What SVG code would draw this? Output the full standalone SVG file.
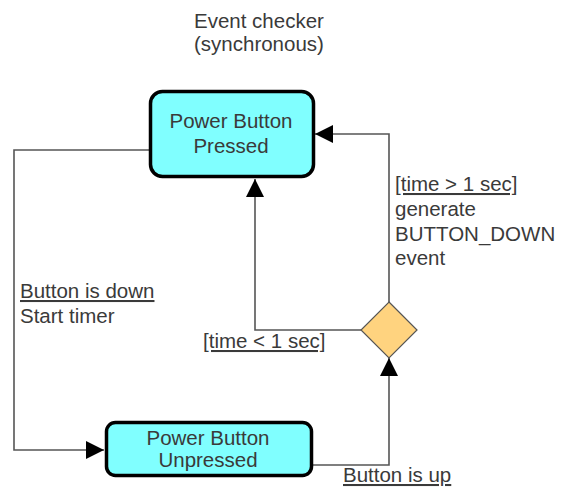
<svg xmlns="http://www.w3.org/2000/svg" width="561" height="487" viewBox="0 0 561 487">
  <style>
    .state { fill: #80FFFF; stroke: #000; stroke-width: 3.5; }
    .choice { fill: #FFD37F; stroke: #555; stroke-width: 1.2; }
    .wire { fill: none; stroke: #555; stroke-width: 1.6; }
    text { font-family: "Liberation Sans", Arial, sans-serif; font-size: 20.5px; fill: #3a3a3a; }
    .center { text-anchor: middle; }
    .guard { text-decoration: underline; }
  </style>
  <defs>
    <marker id="arrow" markerUnits="userSpaceOnUse" markerWidth="18" markerHeight="18" refX="18" refY="9" orient="auto">
      <path d="M0,0 L18,9 L0,18 Z" fill="#000"/>
    </marker>
  </defs>

  <rect width="561" height="487" fill="#fff"/>

  <!-- title -->
  <g id="title">
    <text x="194" y="28">Event checker</text>
    <text x="194" y="51">(synchronous)</text>
  </g>

  <!-- transitions -->
  <g id="connectors">
    <path class="wire" d="M150,150 H14 V450 H104" marker-end="url(#arrow)"/>
    <path class="wire" d="M313,465 H389 V358" marker-end="url(#arrow)"/>
    <path class="wire" d="M362,330 H255 V179" marker-end="url(#arrow)"/>
    <path class="wire" d="M389,302 V134 H315" marker-end="url(#arrow)"/>
  </g>

  <g id="pressed">
    <rect class="state" x="150.5" y="91.5" width="163" height="85" rx="12"/>
    <text class="center" x="231" y="128">Power Button</text>
    <text class="center" x="231" y="153">Pressed</text>
  </g>

  <g id="unpressed">
    <rect class="state" x="106.5" y="422.5" width="205" height="53" rx="9"/>
    <text class="center" x="208" y="445">Power Button</text>
    <text class="center" x="208" y="467">Unpressed</text>
  </g>

  <g id="timer-choice">
    <polygon class="choice" points="389,302 417,330 389,358 361,330"/>
  </g>

  <!-- transition labels -->
  <g id="labels">
    <text class="guard" x="20" y="298">Button is down</text>
    <text x="20" y="323">Start timer</text>
    <text class="guard" x="395" y="191">[time &gt; 1 sec]</text>
    <text x="395" y="216">generate</text>
    <text x="395" y="241">BUTTON_DOWN</text>
    <text x="395" y="265">event</text>
    <text class="guard" x="203" y="348">[time &lt; 1 sec]</text>
    <text class="guard" x="343" y="482">Button is up</text>
  </g>
</svg>
